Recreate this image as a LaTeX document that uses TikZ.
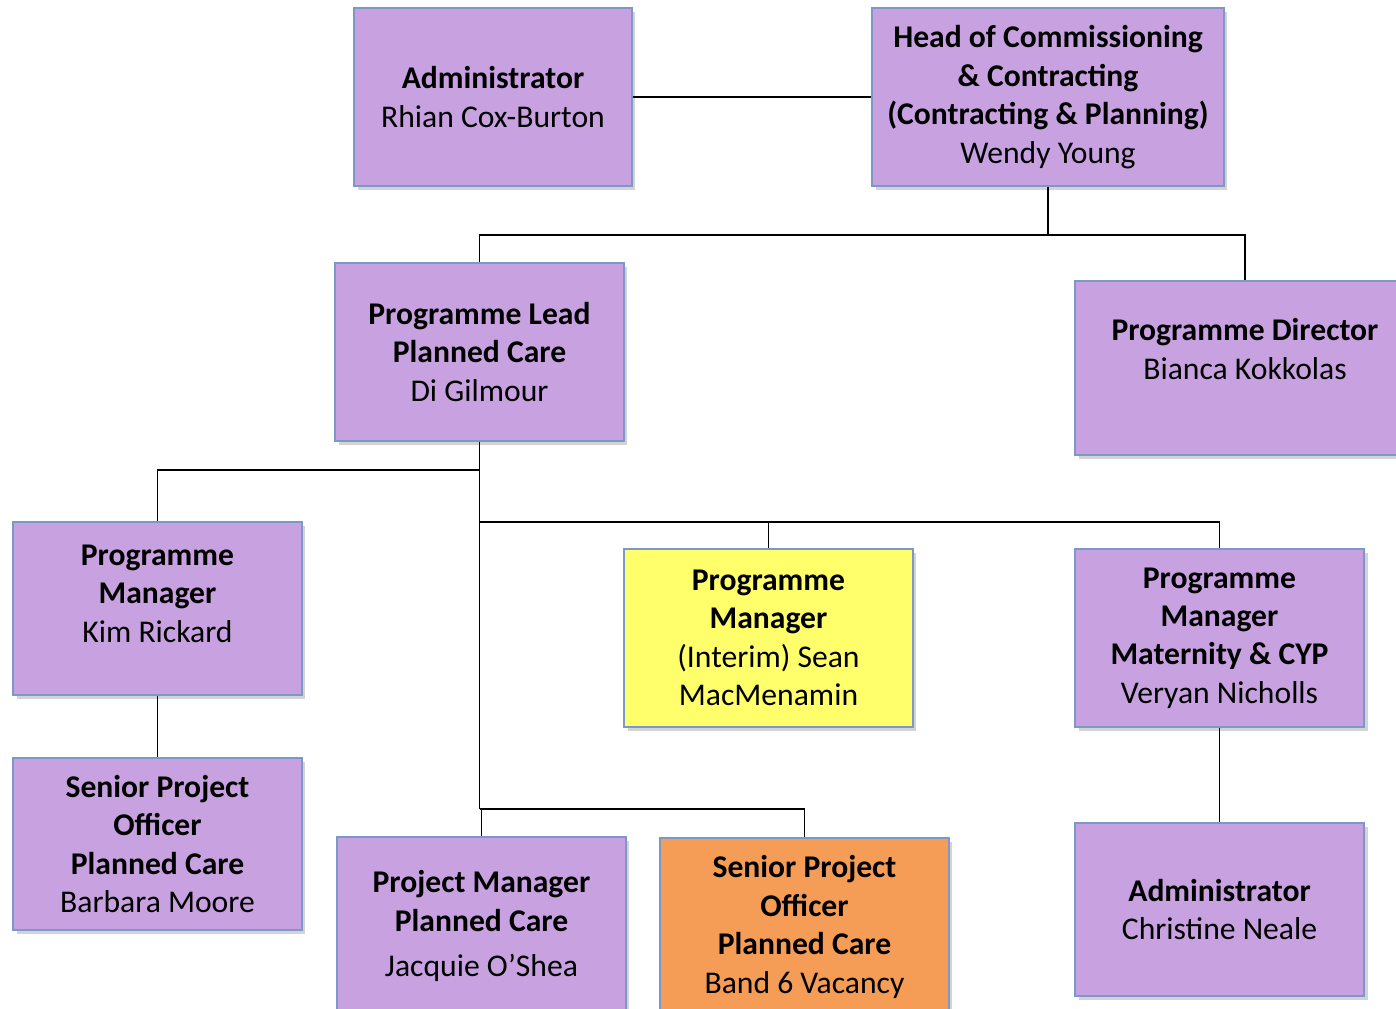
\documentclass[tikz,border=0pt]{standalone}
\usepackage{fontspec}
\setmainfont{Carlito}
\usetikzlibrary{shapes,positioning,calc,shadows}

\definecolor{lilac}{HTML}{C8A2E0}
\definecolor{boxline}{HTML}{7C98C6}
\definecolor{interim}{HTML}{FFFF6B}
\definecolor{vacant}{HTML}{F59D56}

\tikzset{
  role/.style={rectangle, draw=boxline, line width=0.8pt, fill=lilac, align=center,
    minimum width=5.78cm, minimum height=3.5cm, inner sep=2pt,
    font=\fontsize{18}{21.9}\selectfont,
    drop shadow={shadow xshift=2pt, shadow yshift=-2.5pt, opacity=0.35}},
  wide/.style={minimum width=5.56cm},
  link/.style={draw=black, line width=1.1pt}
}
\newcommand{\gap}[1]{\\[#1]\mbox{}}

\begin{document}
\begin{tikzpicture}[x=0.02cm, y=-0.02cm]
    \useasboundingbox (0,0) rectangle (1396,1008);

        % Nodes
    \node (admin) [role, wide, minimum height=3.56cm] at (493,97) {\textbf{Administrator}\\Rhian Cox-Burton};
    \node (head) [role, minimum width=7.04cm, minimum height=3.56cm] at (1048,97) {\textbf{Head of Commissioning}\\\textbf{\& Contracting}\\\textbf{(Contracting \& Planning)}\\Wendy Young};
    \node (lead) [role, minimum height=3.56cm] at (479.5,352) {\textbf{Programme Lead}\\\textbf{Planned Care}\\Di Gilmour};
    \node (director) [role, minimum width=6.8cm, minimum height=3.48cm] at (1245,368) {\textbf{Programme Director}\\Bianca Kokkolas\gap{0pt}};
    \node (kim) [role, minimum height=3.46cm] at (157.5,608.5) {\textbf{Programme}\\\textbf{Manager}\\Kim Rickard\gap{-5pt}};
    \node (sean) [role, fill=interim, minimum height=3.56cm] at (768.5,638) {\textbf{Programme}\\\textbf{Manager}\\(Interim) Sean\\MacMenamin};
    \node (veryan) [role, minimum height=3.56cm] at (1219.5,638) {\textbf{Programme}\\\textbf{Manager}\\\textbf{Maternity \& CYP}\\Veryan Nicholls};
    \node (barbara) [role, minimum height=3.44cm] at (157.5,844) {\textbf{Senior Project}\\\textbf{Officer}\\\textbf{Planned Care}\\Barbara Moore};
    \node (jacquie) [role, minimum height=3.56cm] at (481.5,926) {\textbf{Project Manager}\\\textbf{Planned Care}\\[4pt]Jacquie O’Shea};
    \node (vacancy) [role, fill=vacant, minimum height=3.56cm] at (804.5,927) {\textbf{Senior Project}\\\textbf{Officer}\\\textbf{Planned Care}\\Band 6 Vacancy};
    \node (admintwo) [role, minimum height=3.46cm] at (1219.5,909.5) {\textbf{Administrator}\\Christine Neale};

        % Lines
    \draw [link] (admin) -- (head);
    \draw [link] (head.south) -- ++(0,48) coordinate (headbus) -| (lead.north);
    \draw [link] (headbus) -| (director.north);
    \draw [link] (lead.south) -- ++(0,367) coordinate (leadbus);
    \draw [link] (lead.south) ++(0,28) -| (kim.north);
    \draw [link] (lead.south) ++(0,80) -| (sean.north);
    \draw [link] (lead.south) ++(0,80) -| (veryan.north);
    \draw [link] (leadbus) -| (jacquie.north);
    \draw [link] (leadbus) -| (vacancy.north);
    \draw [link] (kim) -- (barbara);
    \draw [link] (veryan) -- (admintwo);

\end{tikzpicture}
\end{document}
